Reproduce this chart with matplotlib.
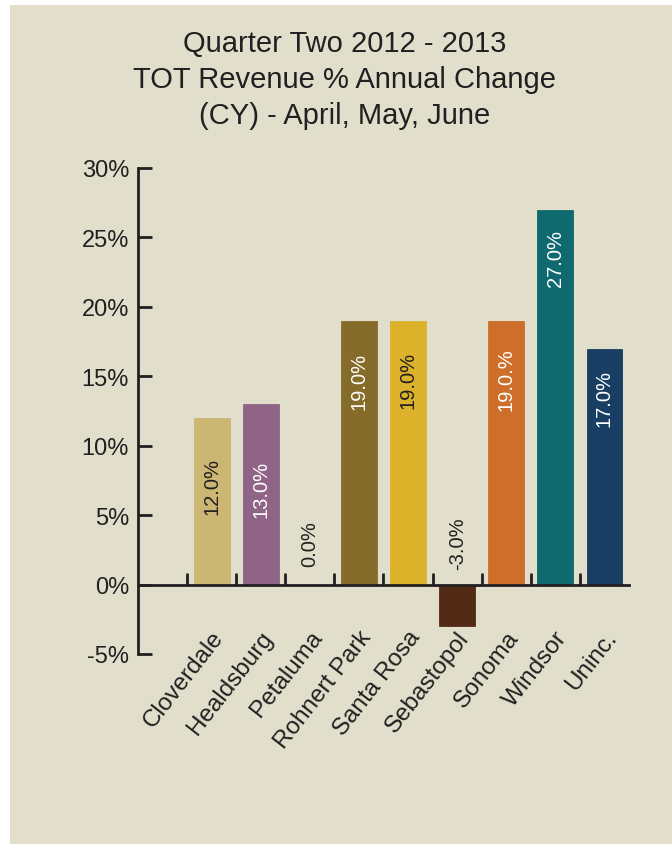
import numpy as np
import matplotlib
matplotlib.use("Agg")
import matplotlib.pyplot as plt
from matplotlib.patches import Rectangle
from matplotlib.transforms import ScaledTranslation

# ------------------------------------------------------------
# data
# ------------------------------------------------------------
cities = ["Cloverdale", "Healdsburg", "Petaluma", "Rohnert Park", "Santa Rosa",
          "Sebastopol", "Sonoma", "Windsor", "Uninc."]
pct_change = [12.0, 13.0, 0.0, 19.0, 19.0, -3.0, 19.0, 27.0, 17.0]
value_labels = ["12.0%", "13.0%", "0.0%", "19.0%", "19.0%", "-3.0%", "19.0.%", "27.0%", "17.0%"]
y_ticks = [-5, 0, 5, 10, 15, 20, 25, 30]

# styling
bar_colors = ["#cbb673", "#8f6487", "#8b4a3a", "#866c2a", "#dbb229",
              "#522b17", "#cd6f2a", "#0e6a6e", "#183f63"]
label_colors = ["#231f20", "#ffffff", "#231f20", "#ffffff", "#231f20",
                "#231f20", "#ffffff", "#ffffff", "#ffffff"]
# gap (pixels) between bar top and label top; negative = above the zero line
label_gap = [39, 56, -19, 31, 30, -16, 27, 19, 20]

BG = "#e1dfcb"
INK = "#231f20"
FONT = ["Liberation Sans", "DejaVu Sans"]

plt.rcParams["font.family"] = FONT

fig = plt.figure(figsize=(6.72, 8.45), dpi=100, facecolor="white")
fig.patches.append(Rectangle((10 / 672, 0), 1, (845 - 6) / 845,
                             transform=fig.transFigure, facecolor=BG,
                             edgecolor="none", zorder=-5))

ax = fig.add_axes([138 / 672, 1 - 655 / 845, (629 - 138) / 672, (655 - 169) / 845])
ax.set_facecolor("none")
ax.set_zorder(2)

x = np.arange(len(cities))
ax.bar(x, pct_change, width=0.73, color=bar_colors, edgecolor=bar_colors,
       linewidth=0.6, zorder=2)

ax.set_xlim(-1.5, len(cities) - 0.5)
ax.set_ylim(-5, 30)

# spines
for s in ["top", "right"]:
    ax.spines[s].set_visible(False)
ax.spines["left"].set_linewidth(2.0)
ax.spines["left"].set_color(INK)
ax.spines["bottom"].set_position(("data", 0))
ax.spines["bottom"].set_linewidth(2.0)
ax.spines["bottom"].set_color(INK)
ax.spines["bottom"].set_zorder(3)

# y axis
ax.set_yticks(y_ticks)
ax.set_yticklabels([f"{v}%" for v in y_ticks])
ax.tick_params(axis="y", direction="in", length=10, width=2.0, color=INK,
               labelsize=17, labelcolor=INK, pad=6.5)

# x axis: category labels at centres, tick marks at boundaries
ax.set_xticks(x)
ax.set_xticklabels(cities, rotation=52, ha="right", va="center",
                   rotation_mode="anchor")
ax.tick_params(axis="x", which="major", length=0, labelsize=17.5,
               labelcolor=INK, pad=35)
shift = ScaledTranslation(8 / 100, 0, fig.dpi_scale_trans)
for lbl in ax.get_xticklabels():
    lbl.set_transform(lbl.get_transform() + shift)
ax.set_xticks(np.arange(-0.5, len(cities) - 1, 1.0), minor=True)
ax.tick_params(axis="x", which="minor", direction="in", length=9, width=2.0,
               color=INK)

# value labels
for xi, v, txt, c, g in zip(x, pct_change, value_labels, label_colors, label_gap):
    if g > 0:
        ax.annotate(txt, (xi, v), xytext=(0, -g), textcoords="offset pixels",
                    rotation=90, ha="center", va="top", fontsize=14.5, color=c,
                    zorder=4)
    else:
        ax.annotate(txt, (xi, 0), xytext=(0, -g), textcoords="offset pixels",
                    rotation=90, ha="center", va="bottom", fontsize=14.5, color=c,
                    zorder=4)

# title
fig.text(345 / 672, 1 - 80 / 845,
         "Quarter Two 2012 - 2013\nTOT Revenue % Annual Change\n(CY) - April, May, June",
         ha="center", va="center", fontsize=21, color=INK, linespacing=1.38)

fig.savefig("out.png", dpi=100, facecolor=fig.get_facecolor())
